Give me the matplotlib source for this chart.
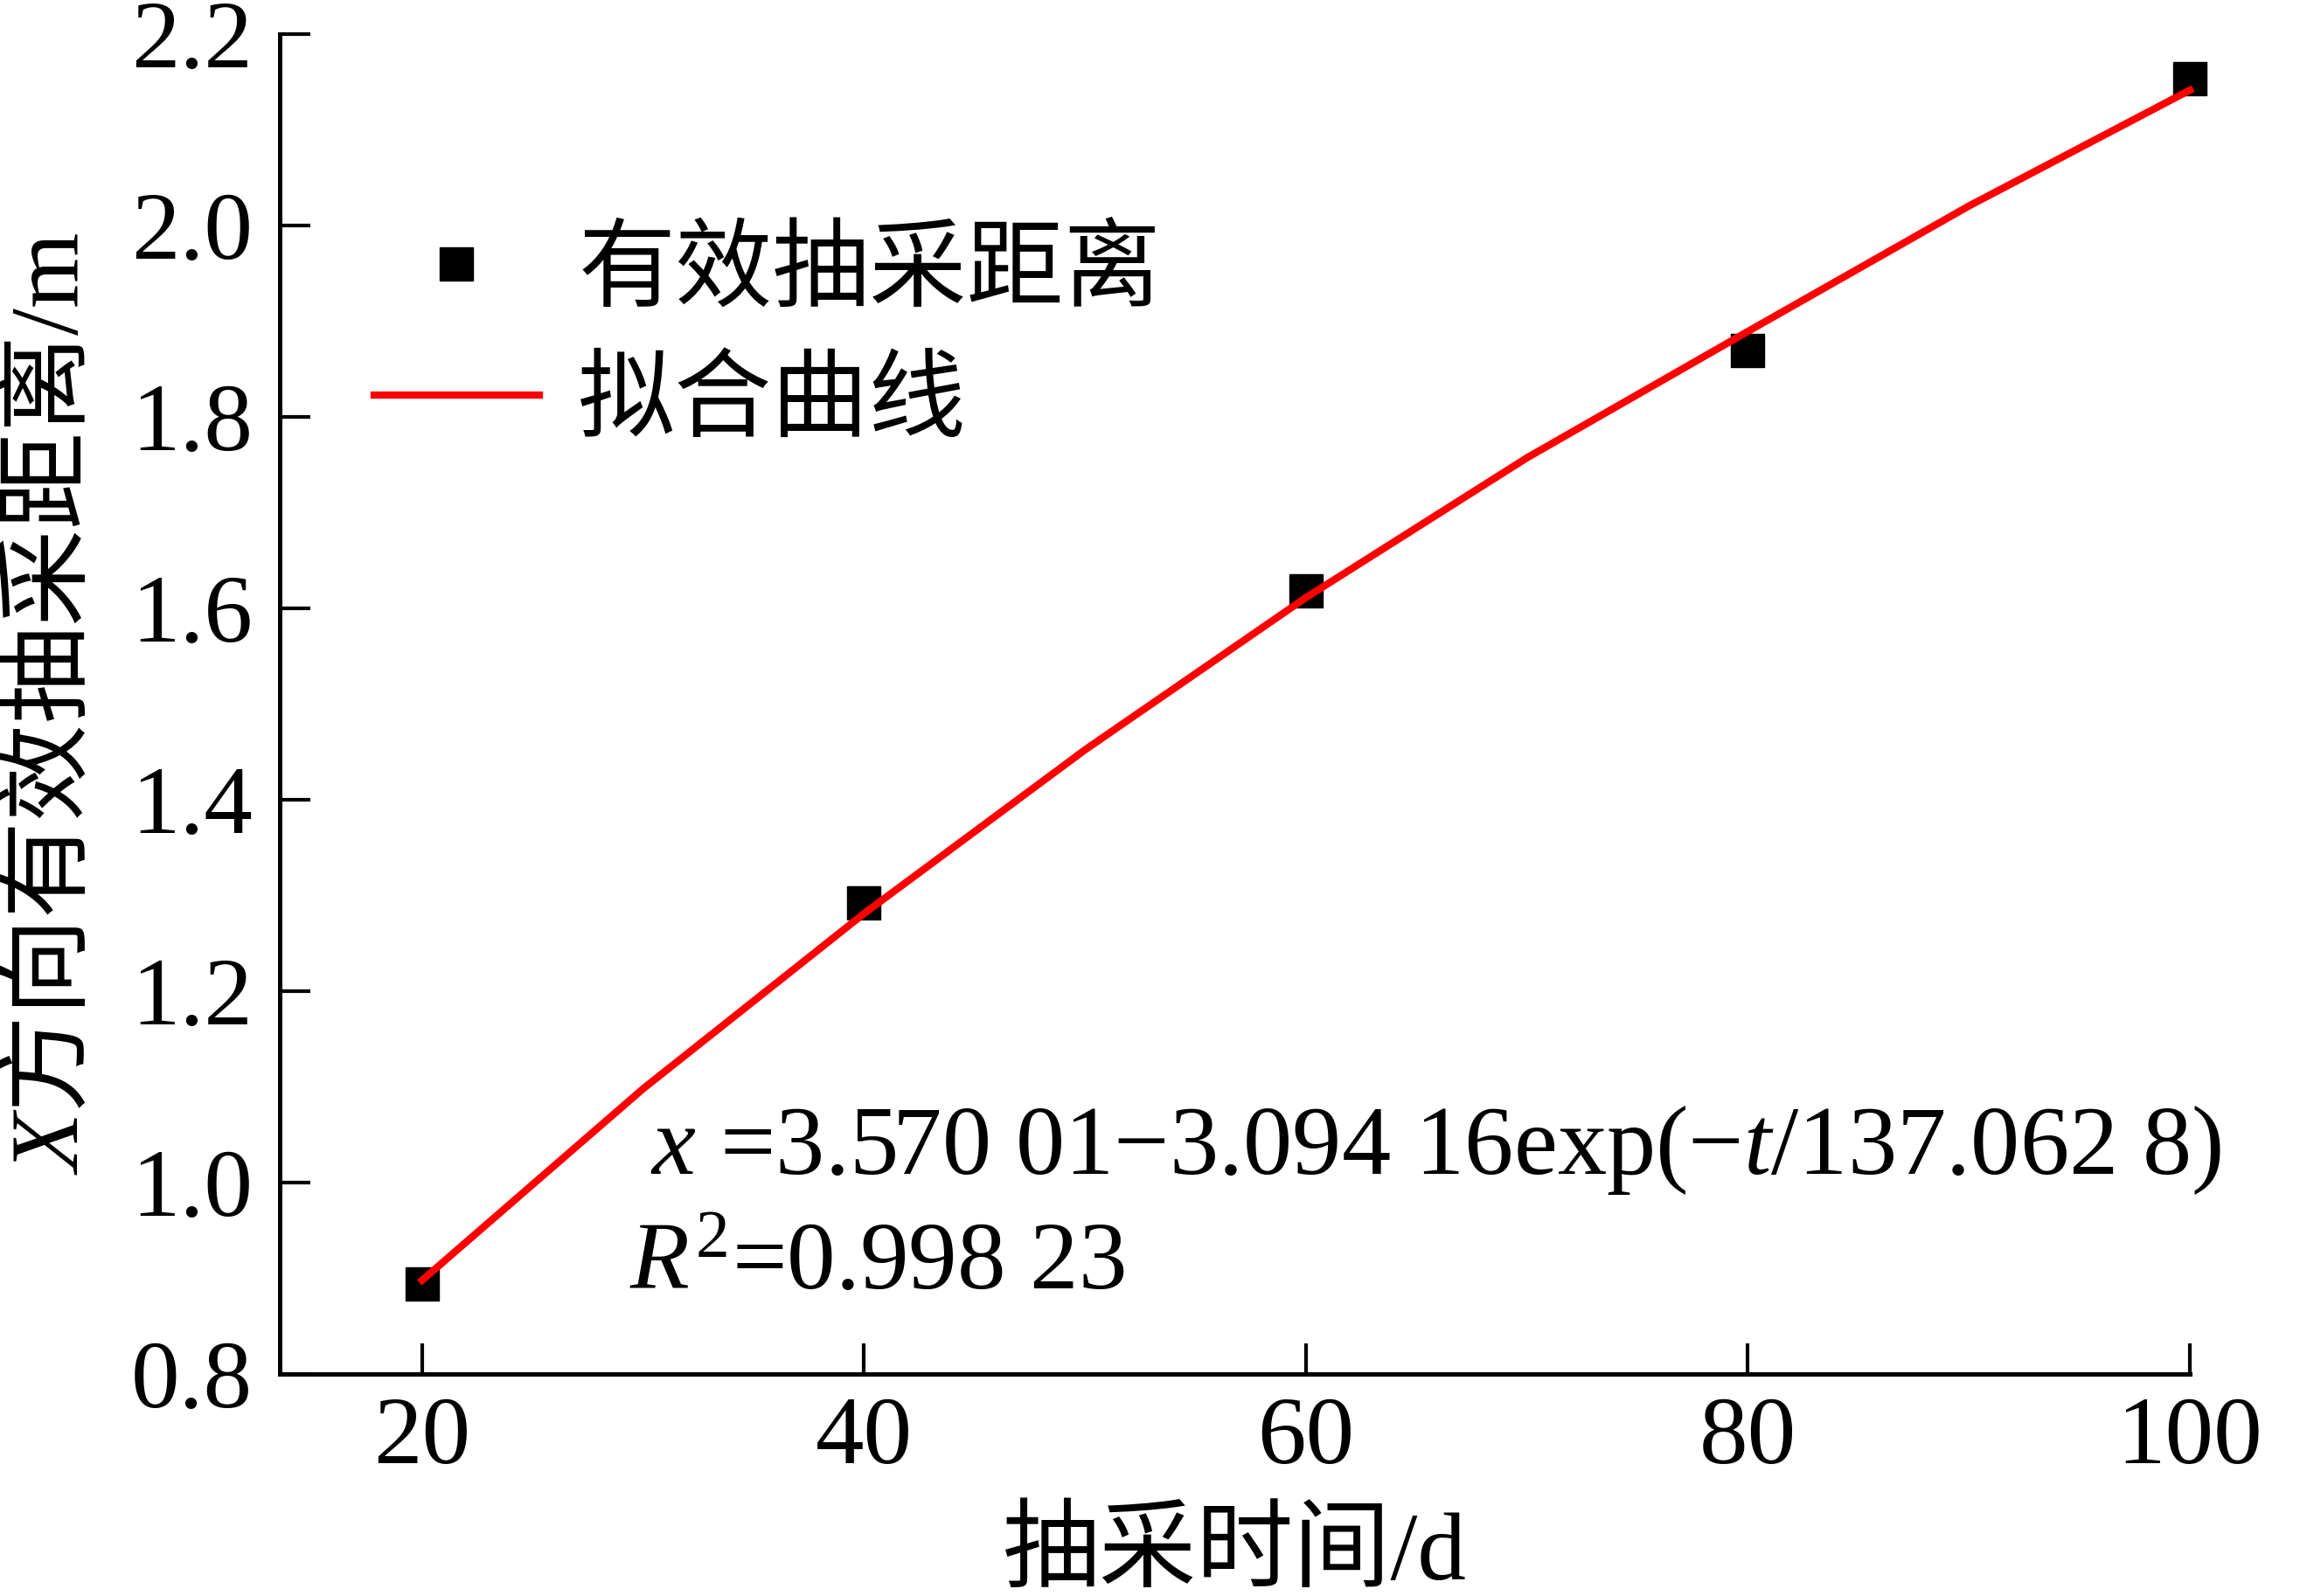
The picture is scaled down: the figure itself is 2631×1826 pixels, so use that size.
import matplotlib
matplotlib.use("Agg")
import matplotlib.pyplot as plt

plt.rcParams['font.family'] = ['Liberation Serif', 'Noto Sans CJK SC']
plt.rcParams['mathtext.fontset'] = 'custom'
plt.rcParams['mathtext.rm'] = 'Liberation Serif'
plt.rcParams['mathtext.it'] = 'Liberation Serif:italic'
plt.rcParams['mathtext.sf'] = 'Noto Sans CJK SC'

# measured points
t_data = [20, 40, 60, 80, 100]
dist_data = [0.894, 1.292, 1.618, 1.869, 2.153]

# fitted curve
t_fit = [20, 30, 40, 50, 60, 70, 80, 90, 100]
dist_fit = [0.898, 1.098, 1.281, 1.452, 1.611, 1.757, 1.889, 2.020, 2.141]

xticks = [20, 40, 60, 80, 100]
yticks = [0.8, 1.0, 1.2, 1.4, 1.6, 1.8, 2.0, 2.2]

fs = 80

fig = plt.figure(figsize=(26.31, 18.26), dpi=100)
ax = fig.add_axes([0.1216, 0.1391, 0.8305, 0.8398])

ax.plot(t_data, dist_data, 's', color='black', markersize=27, label='有效抽采距离',
        zorder=3, clip_on=False)
ax.plot(t_fit, dist_fit, '-', color='#ff0000', linewidth=6, label='拟合曲线',
        zorder=4, clip_on=False)

ax.set_xlim(13.55, 100)
ax.set_ylim(0.8, 2.2)
ax.set_xticks(xticks)
ax.set_yticks(yticks)
ax.set_yticklabels(['%.1f' % v for v in yticks])

for s in ['top', 'right']:
    ax.spines[s].set_visible(False)
for s in ['left', 'bottom']:
    ax.spines[s].set_linewidth(3.6)

ax.tick_params(direction='in', length=25, width=3, labelsize=fs)
ax.tick_params(axis='y', pad=22)
ax.tick_params(axis='x', pad=18)

ax.set_xlabel('抽采时间/d', fontsize=fs, labelpad=22)
ax.set_ylabel(r'$X\mathsf{方向有效抽采距离}$/m', fontsize=fs, labelpad=28)

leg = ax.legend(loc='upper left', bbox_to_anchor=(0.029, 0.884), frameon=False,
                fontsize=fs, handlelength=1.7, handletextpad=0.4, labelspacing=0.42,
                borderaxespad=0)
leg.get_lines()[0].set_linewidth(5.5)

ax.text(0.194, 0.167, '$x$ =3.570 01\u22123.094 16exp(\u2212$t$/137.062 8)',
        transform=ax.transAxes, fontsize=81, va='center', ha='left')
ax.text(0.183, 0.081, '$R^2$=0.998 23',
        transform=ax.transAxes, fontsize=fs, va='center', ha='left')

fig.savefig('out.png', dpi=100)
